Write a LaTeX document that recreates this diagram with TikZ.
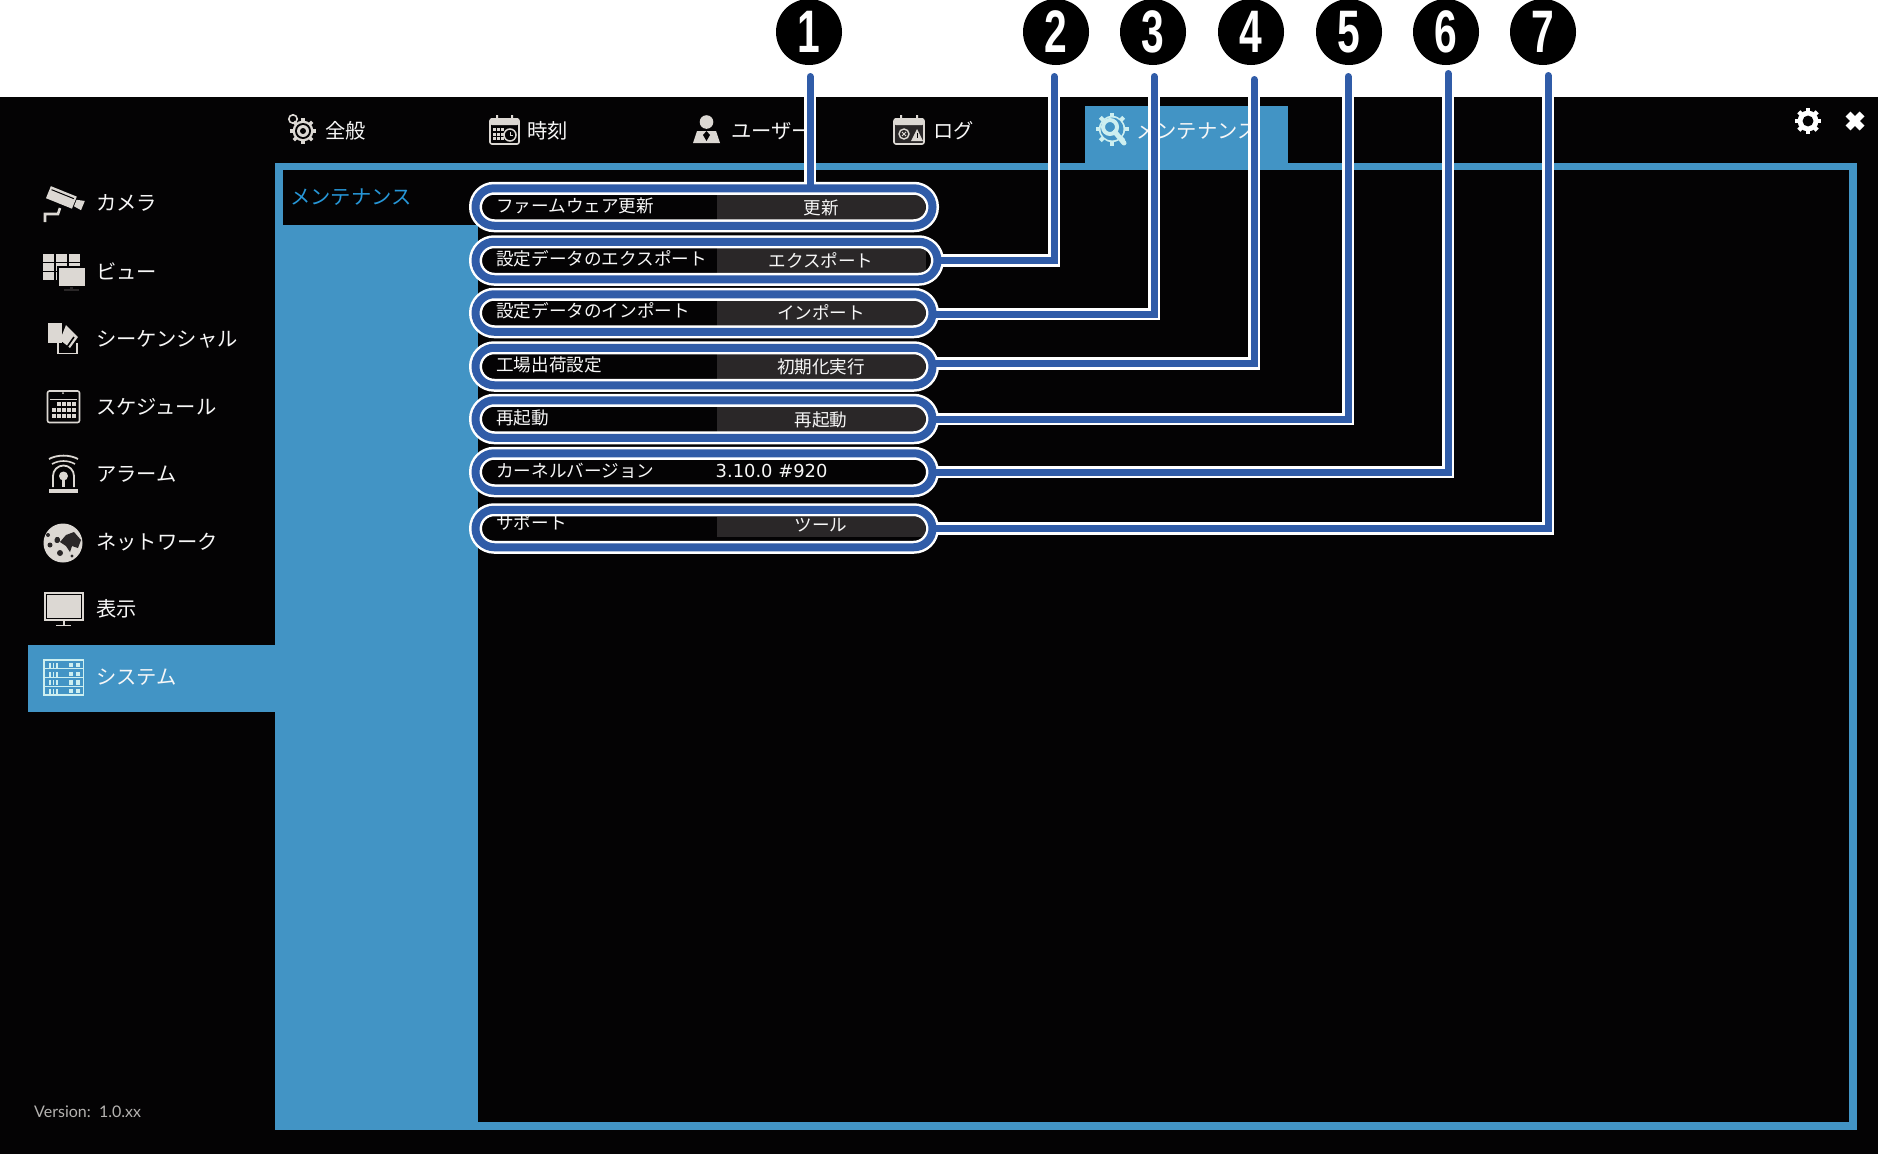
\documentclass[tikz,border=0pt]{standalone}
\usepackage{fontspec}
\setmainfont{Noto Sans CJK JP}
\newfontfamily\numfont{DejaVu Sans}
\newfontfamily\digitfont{Liberation Sans}
\newfontfamily\verfont{Lato}
\definecolor{bgblack}{HTML}{040304}
\definecolor{framecol}{HTML}{4294C5}
\definecolor{pillcol}{HTML}{305CA8}
\definecolor{btncol}{HTML}{2A2728}
\definecolor{iconcol}{HTML}{DCD8D3}
\definecolor{txtcol}{HTML}{F7F7F7}
\definecolor{subcol}{HTML}{2797D8}
\definecolor{cyancol}{HTML}{CDEFF0}
\definecolor{vercol}{HTML}{B4B2B0}
\newcommand{\mycog}[6]{% x y R hole teeth colour
  \fill[#6] (#1,#2) circle ({#3*0.8});
  \foreach \myang in {0,45,...,315}{
    \fill[#6,shift={(#1,#2)},rotate=\myang] (-#5,0) rectangle (#5,#3);
  }
  \fill[#4] (#1,#2) circle ({#3*0.42});
}
\tikzset{
  x=1pt,y=-1pt,
  sidelabel/.style={anchor=west,inner sep=0pt,text=txtcol,font=\fontsize{20.3}{24}\selectfont,text height=17.9pt,text depth=2.4pt},
  pilllabel/.style={anchor=west,inner sep=0pt,text=txtcol,font=\fontsize{17.6}{21}\selectfont,text height=15.5pt,text depth=2.1pt},
  btnlabel/.style={pilllabel,anchor=center},
  pillhalo/.style={draw=white,line width=13pt,rectangle,rounded corners=18.7pt,outer sep=0pt,inner sep=0pt},
  pillblue/.style={draw=pillcol,line width=8pt,rounded corners=18.7pt},
  leaderhalo/.style={draw=white,line width=12.5pt,line cap=round,line join=miter},
  leaderblue/.style={draw=pillcol,line width=7pt,line cap=round,line join=miter},
  badge/.style={circle,fill=black,minimum size=66pt,inner sep=0pt,outer sep=0pt,text=white,font=\digitfont\bfseries\fontsize{60}{62}\selectfont},
  iconline/.style={draw=iconcol,line width=1.6pt},
}
\newcommand{\numeral}[1]{\scalebox{0.68}[1]{#1}}
\begin{document}
\begin{tikzpicture}
\useasboundingbox (0,0) rectangle (1878,1154);
\fill[white] (0,0) rectangle (1878,97);
\fill[bgblack] (0,97) rectangle (1878,1154);
% frame and panels
\fill[framecol] (275,163) rectangle (1857,1130);
\fill[bgblack] (283,170) rectangle (1849,1122);
\fill[framecol] (283,225) rectangle (478,1122);
\fill[framecol] (1085,106) rectangle (1288,170);
\fill[framecol] (28,645) rectangle (275,712);
% tab texts
\node[sidelabel] (t1) at (325,131) {全般};
\node[sidelabel] (t2) at (527,131) {時刻};
\node[sidelabel] (t3) at (731,131) {ユーザー};
\node[sidelabel] (t4) at (933,131) {ログ};
\node[sidelabel] (t5) at (1136,131) {メンテナンス};
% side texts
\node[sidelabel] (s1) at (96,203) {カメラ};
\node[sidelabel] (s2) at (96,272) {ビュー};
\node[sidelabel] (s3) at (96,339) {シーケンシャル};
\node[sidelabel] (s4) at (96,407) {スケジュール};
\node[sidelabel] (s5) at (96,474) {アラーム};
\node[sidelabel] (s6) at (96,542) {ネットワーク};
\node[sidelabel] (s7) at (96,609) {表示};
\node[sidelabel] (s8) at (96,677) {システム};
\node[sidelabel,text=subcol] (sub) at (290,197) {メンテナンス};
\node[anchor=west,inner sep=0pt,text=vercol,font=\verfont\fontsize{16}{18}\selectfont] (ver) at (34,1112) {Version:\ \ 1.0.xx};
% tab icons
\mycog{303}{131}{13}{bgblack}{1.7}{iconcol}
\fill[bgblack] (303,131) circle (8); \fill[iconcol] (303,131) circle (6); \fill[bgblack] (303,131) circle (3);
\draw[iconcol,line width=1.6pt] (293,119) circle (4.2);
% calendar
\draw[iconline,fill=bgblack,rounded corners=2pt] (490,119) rectangle (519,144);
\fill[iconcol,rounded corners=2pt] (490,118) rectangle (519,125);
\fill[iconcol] (496,115) rectangle (498,121) (511,115) rectangle (513,121);
\foreach \px in {493,497,501}{\foreach \py in {128,132.5,137}{\fill[iconcol] (\px,\py) rectangle +(3,3);}}
\draw[iconcol,line width=1.5pt] (510,135) circle (6); \draw[iconcol,line width=1pt] (510,131.5) -- (510,135) -- (513,135);
% user
\fill[iconcol] (706.5,122) circle (6.8);
\fill[iconcol] (693,143) -- (697,131) -- (716,131) -- (720,143) -- cycle;
\fill[bgblack] (706.5,131) -- (703,135) -- (706.5,141) -- (710,135) -- cycle;
% log
\draw[iconline,fill=btncol,rounded corners=2pt] (894,119) rectangle (924,144);
\fill[iconcol,rounded corners=2pt] (894,118) rectangle (924,125);
\fill[iconcol] (900,115) rectangle (902,121) (916,115) rectangle (918,121);
\draw[iconcol,line width=1.4pt] (904,134) circle (5);
\draw[iconcol,line width=1pt] (902,132) -- (906,136) (906,132) -- (902,136);
\fill[iconcol] (917,129) -- (923,141) -- (911,141) -- cycle;
\fill[bgblack] (916.5,133) rectangle (917.5,138);
% maintenance
\mycog{1112}{129}{16.5}{framecol}{2}{cyancol}
\fill[framecol] (1112,129) circle (11.5);
\draw[cyancol,line width=4pt] (1110,127) circle (7);
\draw[cyancol,line width=5pt,line cap=round] (1115,132) -- (1124,143);
% side icons
% camera
\begin{scope}[shift={(64,199)},rotate=-22]
\fill[iconcol] (-17,-7) rectangle (11,6);
\fill[bgblack] (-15,-4.5) rectangle (9,-3.5);
\fill[iconcol] (12,-4) -- (20,-6) -- (20,4) -- (12,3) -- cycle;
\end{scope}
\draw[iconcol,line width=2.6pt] (45,222) -- (45,214) -- (58,214) -- (60,208);
% view
\foreach \px/\pw in {43/11,56/11,69/11}{\foreach \py in {254,263,272}{\fill[iconcol] (\px,\py) rectangle +(\pw,7.5);}}
\fill[bgblack] (57,266) rectangle (87,288);
\fill[iconcol] (59,268) rectangle (85,286);
\fill[btncol] (70,287) rectangle (73,290); \fill[btncol] (64,289) rectangle (79,291);
% sequential
\fill[iconcol] (48,323) rectangle (62,343);
\fill[iconcol] (66,325) -- (78,337) -- (70,348) -- (60,340) -- cycle;
\draw[iconcol,line width=1.6pt] (58,343) -- (58,353.5) -- (77,353.5) -- (77,343);
\draw[bgblack,line width=1.6pt] (62,343) -- (67,347) -- (74,337);
% schedule
\draw[iconline,rounded corners=2pt] (47.5,391) rectangle (79.5,422.5);
\fill[iconcol] (50,399) rectangle (77,400);
\fill[iconcol] (63,393) circle (1);
\foreach \py in {402,407.5,413.5}{\foreach \px in {57,62,67,72}{\fill[iconcol] (\px,\py) rectangle +(3.5,4);}}
\foreach \py in {407.5,413.5}{\fill[iconcol] (52,\py) rectangle +(3.5,4);}
% alarm
\draw[iconcol,line width=1.8pt] (49,459) .. controls (57,454.5) and (70,454.5) .. (78,459);
\draw[iconcol,line width=1.6pt] (52,464) .. controls (59,460) and (68,460) .. (75,464);
\draw[iconcol,line width=1.8pt] (53,487) -- (53,476) arc[start angle=180,end angle=360,radius=10.5] -- (74,487);
\fill[iconcol] (49,488.5) rectangle (78,493);
\fill[iconcol] (63.5,476) circle (4.5); \fill[iconcol] (62,476) rectangle (65,487);
% globe
\fill[iconcol] (63,543) circle (19.5);
\fill[btncol] (66,535) -- (74,532) -- (81,540) -- (78,548) -- (72,546) -- (70,552) -- (66,546) -- (60,542) -- cycle;
\fill[btncol] (56,537) .. controls (60,536) and (62,541) .. (58,543) .. controls (55,544) and (53,540) .. (56,537) -- cycle;
\fill[btncol] (50,545) circle (2.5) (48,535) circle (2) (60,553) circle (3) (72,556) circle (1.6);
% monitor
\draw[iconline,line width=2pt] (45,593) rectangle (82.5,619.5);
\fill[iconcol] (47,595) rectangle (80.5,617.5);
\fill[iconcol] (62.5,620) rectangle (64.5,625); \fill[iconcol] (56,624.5) rectangle (71,626);
% system
\draw[cyancol,line width=1.5pt] (44,660) rectangle (83.5,695.5);
\foreach \py in {660,669,677.5,686}{
  \draw[cyancol,line width=1.2pt] (44,\py+8.7) -- (83.5,\py+8.7);
  \foreach \px in {49,52.5,56}{\fill[cyancol] (\px,\py+2.5) rectangle +(1.5,5);}
  \fill[cyancol] (69,\py+2.5) rectangle +(4,4.5);
  \fill[cyancol] (76,\py+2.5) rectangle +(4,4.5);
}
% top right
\mycog{1808}{121}{13}{bgblack}{2.2}{white}
\draw[white,line width=7pt] (1848,114) -- (1862,128) (1862,114) -- (1848,128);
% buttons
\fill[btncol] (717,194) rectangle (925,220);
\fill[btncol] (717,247) rectangle (926,273);
\fill[btncol] (717,300) rectangle (925,327);
\fill[btncol] (717,353) rectangle (925,379);
\fill[btncol] (717,407) rectangle (925,432);
\fill[btncol] (717,517) rectangle (925,537);
% pill labels
\node[pilllabel] (a1) at (496,206) {ファームウェア更新};
\node[pilllabel] (a2) at (496,259) {設定データのエクスポート};
\node[pilllabel] (a3) at (496,311) {設定データのインポート};
\node[pilllabel] (a4) at (496,365) {工場出荷設定};
\node[pilllabel] (a5) at (496,418) {再起動};
\node[pilllabel] (a6) at (496,471) {カーネルバージョン};
\node[pilllabel] (a7) at (496,523) {サポート};
\node[btnlabel] (b1) at (821,208) {更新};
\node[btnlabel] (b2) at (821,261) {エクスポート};
\node[btnlabel] (b3) at (821,313) {インポート};
\node[btnlabel] (b4) at (821,367) {初期化実行};
\node[btnlabel] (b5) at (821,420) {再起動};
\node[anchor=west,inner sep=0pt,text=txtcol,font=\numfont\fontsize{17.9}{21}\selectfont] (b6) at (715.5,470.5) {3.10.0 \#920};
\node[btnlabel] (b7) at (821,525) {ツール};
% pill halos
\foreach \pn/\pr/\pc in {1/932.5/207,2/937.5/260.5,3/932.5/313,4/932.5/366.5,5/932.5/419,6/932.5/472,7/932.5/528.5}{
  \pgfmathsetmacro{\pillx}{(475.5+\pr)/2}
  \pgfmathsetmacro{\pillw}{\pr-475.5}
  \node[pillhalo,minimum width=\pillw pt,minimum height=37.5pt] (p\pn) at (\pillx,\pc) {};
}
% leader ends and badges
\node[badge] (n1) at (809,32) {\numeral{1}};
\node[badge] (n2) at (1056,32) {\numeral{2}};
\node[badge] (n3) at (1153,32) {\numeral{3}};
\node[badge] (n4) at (1251,32) {\numeral{4}};
\node[badge] (n5) at (1349,32) {\numeral{5}};
\node[badge] (n6) at (1446,32) {\numeral{6}};
\node[badge] (n7) at (1543,32) {\numeral{7}};
\coordinate (l1) at (810,76.5);
\coordinate (l2) at (1054,76.5);
\coordinate (l3) at (1154,76.5);
\coordinate (l4) at (1254,79.5);
\coordinate (l5) at (1348,76.5);
\coordinate (l6) at (1448,73.5);
\coordinate (l7) at (1548,75.5);
% leaders, halo pass
\draw[leaderhalo] (l1) -- (l1 |- p1.north);
\draw[leaderhalo] (l2) |- (p2.east);
\draw[leaderhalo] (l3) |- ([yshift=-1pt]p3.east);
\draw[leaderhalo] (l4) |- ([yshift=3pt]p4.east);
\draw[leaderhalo] (l5) |- (p5.east);
\draw[leaderhalo] (l6) |- (p6.east);
\draw[leaderhalo] (l7) |- (p7.east);
% pill blue pass
\foreach \pn in {1,...,7}{
  \draw[pillblue] (p\pn.south west) rectangle (p\pn.north east);
}
% leaders, blue pass
\draw[leaderblue] (l1) -- (l1 |- p1.north);
\draw[leaderblue] (l2) |- (p2.east);
\draw[leaderblue] (l3) |- ([yshift=-1pt]p3.east);
\draw[leaderblue] (l4) |- ([yshift=3pt]p4.east);
\draw[leaderblue] (l5) |- (p5.east);
\draw[leaderblue] (l6) |- (p6.east);
\draw[leaderblue] (l7) |- (p7.east);
\end{tikzpicture}
\end{document}
